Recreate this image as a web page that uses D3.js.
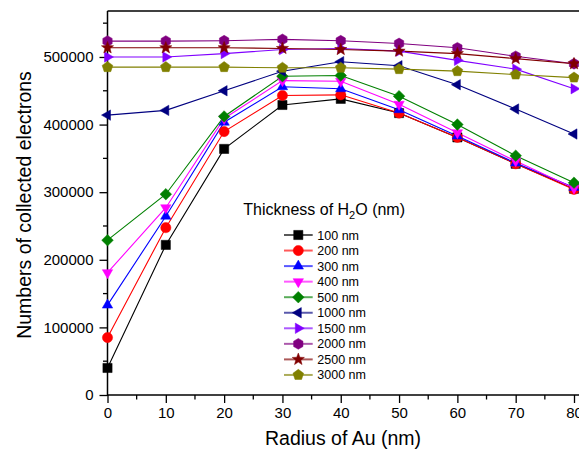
<!DOCTYPE html>
<html>
<head>
<meta charset="utf-8">
<script src="https://cdn.jsdelivr.net/npm/d3@7"></script>
<style>
  html, body { margin: 0; padding: 0; background: #fff; }
  svg { display: block; font-family: "Liberation Sans", Arial, sans-serif; }
</style>
</head>
<body>
<svg id="chart" width="579" height="453"></svg>
<script>
// ---- data ----
const radius = [0, 10, 20, 30, 40, 50, 60, 70, 80];
const seriesNames = ["100 nm", "200 nm", "300 nm", "400 nm", "500 nm", "1000 nm", "1500 nm", "2000 nm", "2500 nm", "3000 nm"];
const t100  = [40000, 222000, 364000, 429000, 438000, 417000, 381000, 342000, 305000];
const t200  = [85000, 247500, 389700, 443000, 444000, 417000, 381000, 342000, 304000];
const t300  = [133000, 264500, 403500, 456000, 453000, 422000, 383000, 343000, 307000];
const t400  = [181000, 277000, 409000, 465000, 464000, 430000, 388000, 346000, 306000];
const t500  = [229000, 297000, 412000, 471500, 472500, 442000, 400000, 354000, 314000];
const t1000 = [414000, 421000, 450000, 479000, 493000, 487000, 459000, 423000, 386000];
const t1500 = [500000, 500000, 505000, 511000, 512600, 508600, 495000, 482000, 453000];
const t2000 = [523500, 523500, 524000, 526000, 524000, 520000, 513600, 501000, 490000];
const t2500 = [513600, 513600, 513600, 512600, 511000, 508600, 505000, 497600, 490000];
const t3000 = [485000, 485000, 485000, 484000, 484000, 482000, 479000, 474000, 469500];
const allValues = [t100, t200, t300, t400, t500, t1000, t1500, t2000, t2500, t3000];
const xTicks = [0, 10, 20, 30, 40, 50, 60, 70, 80];
const yTicks = [0, 100000, 200000, 300000, 400000, 500000];
const colors = ["#000000", "#ff0000", "#0000ff", "#ff00ff", "#008000", "#000080", "#8000ff", "#800080", "#800000", "#808000"];
const shapes = ["square", "circle", "triUp", "triDown", "diamond", "triLeft", "triRight", "hexagon", "star", "pentagon"];

// ---- layout ----
const svg = d3.select("#chart");
const plotLeft = 107.5, plotTop = 11, plotBottom = 395;
const x = d3.scaleLinear().domain([0, 80]).range([plotLeft, 574]);
const xEnd = 600;
const y = d3.scaleLinear().domain([0, 568000]).range([plotBottom, plotTop]);

function poly(n, r, rot) {
  const pts = [];
  for (let i = 0; i < n; i++) {
    const a = rot + i * 2 * Math.PI / n;
    pts.push([r * Math.cos(a), r * Math.sin(a)]);
  }
  return "M" + pts.map(p => p[0].toFixed(2) + "," + p[1].toFixed(2)).join("L") + "Z";
}
function shapePath(t) {
  switch (t) {
    case "square": return "M-4.6,-4.6h9.2v9.2h-9.2Z";
    case "circle": return "M5.1,0A5.1,5.1 0 1 1 -5.1,0A5.1,5.1 0 1 1 5.1,0Z";
    case "triUp": return poly(3, 6.0, -Math.PI / 2);
    case "triDown": return poly(3, 6.0, Math.PI / 2);
    case "triLeft": return poly(3, 6.0, Math.PI);
    case "triRight": return poly(3, 6.0, 0);
    case "diamond": return poly(4, 5.8, -Math.PI / 2);
    case "hexagon": return poly(6, 5.4, -Math.PI / 2);
    case "pentagon": return poly(5, 5.6, -Math.PI / 2);
    case "star": {
      const pts = [];
      for (let i = 0; i < 10; i++) {
        const r = i % 2 === 0 ? 6.4 : 2.7;
        const a = -Math.PI / 2 + i * Math.PI / 5;
        pts.push([r * Math.cos(a), r * Math.sin(a)]);
      }
      return "M" + pts.map(p => p[0].toFixed(2) + "," + p[1].toFixed(2)).join("L") + "Z";
    }
  }
}

// ---- axes ----
const axisStroke = 1.5;
// x axis
const gx = svg.append("g").attr("transform", `translate(0,${plotBottom})`);
gx.append("line").attr("x1", plotLeft).attr("x2", xEnd).attr("y1", 0).attr("y2", 0)
  .attr("stroke", "#000").attr("stroke-width", axisStroke);
const xMinor = d3.range(5, 86, 10);
gx.selectAll(".xminor").data(xMinor).join("line")
  .attr("x1", d => x(d)).attr("x2", d => x(d)).attr("y1", 0).attr("y2", 4.5)
  .attr("stroke", "#000").attr("stroke-width", 1.3);
const xAxis = d3.axisBottom(x).tickValues(xTicks).tickSize(8).tickPadding(4.5).tickFormat(d3.format("d"));
const gxa = svg.append("g").attr("transform", `translate(0,${plotBottom})`).call(xAxis);
gxa.select(".domain").remove();
gxa.selectAll(".tick line").attr("stroke-width", 1.3);
gxa.selectAll("text").attr("font-size", 15).attr("font-family", "Liberation Sans, Arial, sans-serif").attr("fill", "#000");

// y axis
const gy = svg.append("g").attr("transform", `translate(${plotLeft},0)`);
gy.append("line").attr("x1", 0).attr("x2", 0).attr("y1", plotTop).attr("y2", plotBottom + 1)
  .attr("stroke", "#000").attr("stroke-width", axisStroke);
const yMinor = d3.range(50000, 568000, 100000);
gy.selectAll(".yminor").data(yMinor).join("line")
  .attr("x1", -4.5).attr("x2", 0).attr("y1", d => y(d)).attr("y2", d => y(d))
  .attr("stroke", "#000").attr("stroke-width", 1.3);
const yAxis = d3.axisLeft(y).tickValues(yTicks).tickSize(8).tickPadding(6).tickFormat(d3.format("d"));
const gya = svg.append("g").attr("transform", `translate(${plotLeft},0)`).call(yAxis);
gya.select(".domain").remove();
gya.selectAll(".tick line").attr("stroke-width", 1.3);
gya.selectAll("text").attr("font-size", 15).attr("font-family", "Liberation Sans, Arial, sans-serif").attr("fill", "#000");

// top frame
svg.append("line").attr("x1", plotLeft).attr("x2", xEnd).attr("y1", plotTop).attr("y2", plotTop)
  .attr("stroke", "#000").attr("stroke-width", axisStroke);

// axis titles
svg.append("text").attr("x", 343).attr("y", 445).attr("text-anchor", "middle")
  .attr("font-size", 19.5).attr("fill", "#000").text("Radius of Au (nm)");
svg.append("text").attr("transform", "translate(31,205) rotate(-90)").attr("text-anchor", "middle")
  .attr("font-size", 19.5).attr("fill", "#000").text("Numbers of collected electrons");

// ---- series ----
const line = d3.line().x((d, i) => x(radius[i])).y(d => y(d));
const gs = svg.append("g");
allValues.forEach((vals, k) => {
  gs.append("path").attr("d", line(vals)).attr("fill", "none")
    .attr("stroke", colors[k]).attr("stroke-width", 1.1);
});
allValues.forEach((vals, k) => {
  gs.selectAll(null).data(vals).join("path")
    .attr("transform", (d, i) => `translate(${x(radius[i])},${y(d)})`)
    .attr("d", shapePath(shapes[k]))
    .attr("fill", colors[k]).attr("stroke", colors[k]).attr("stroke-width", 0.5);
});

// ---- legend ----
const lg = svg.append("g");
const title = lg.append("text").attr("x", 243.3).attr("y", 215).attr("font-size", 16).attr("fill", "#000");
title.append("tspan").text("Thickness of H");
title.append("tspan").attr("font-size", 11).attr("dy", 4).text("2");
title.append("tspan").attr("dy", -4).text("O (nm)");
seriesNames.forEach((name, k) => {
  const yy = 235 + k * 15.55;
  lg.append("line").attr("x1", 284).attr("x2", 312.7).attr("y1", yy).attr("y2", yy)
    .attr("stroke", colors[k]).attr("stroke-width", 2).attr("stroke-opacity", 0.65);
  lg.append("path").attr("transform", `translate(298.3,${yy})`).attr("d", shapePath(shapes[k]))
    .attr("fill", colors[k]).attr("stroke", colors[k]).attr("stroke-width", 0.5);
  lg.append("text").attr("x", 317.3).attr("y", yy).attr("dy", "0.36em")
    .attr("font-size", 12.5).attr("fill", "#000").text(name);
});
</script>
</body>
</html>
